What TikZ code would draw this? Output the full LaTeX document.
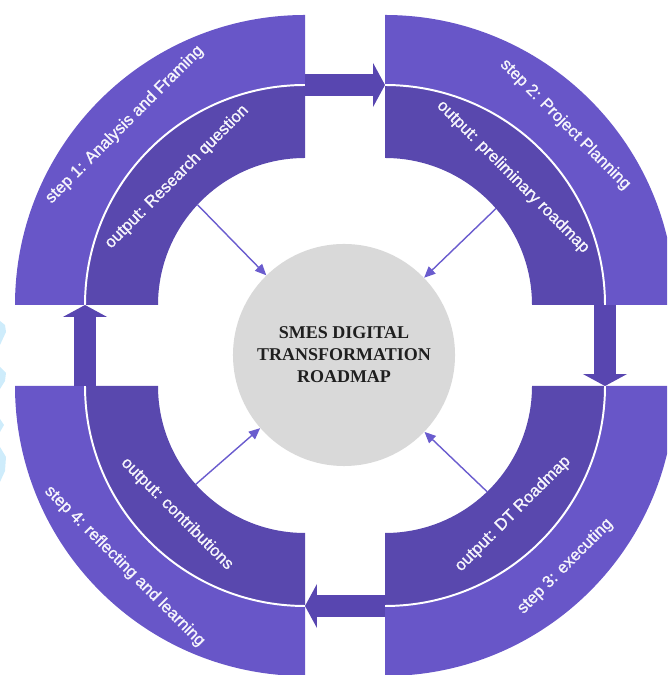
\documentclass[tikz,border=0pt]{standalone}
\usepackage{fontspec}
\setmainfont{Liberation Sans}
\newfontfamily\labelfont{Liberation Sans}[UprightFeatures={FakeBold=1.2}]
\newfontfamily\titlefont{Liberation Serif}
\usepackage{xcolor}
\usepackage{tikz}
\usetikzlibrary{arrows.meta}
\usetikzlibrary{calc}
\tikzset{font={\fontsize{11.8pt}{14pt}\selectfont}}
\definecolor{ringlight}{RGB}{104,86,200}
\definecolor{ringdark}{RGB}{89,72,174}
\definecolor{arrowpurple}{RGB}{88,70,176}
\definecolor{feedpurple}{RGB}{106,92,206}
\definecolor{coregray}{RGB}{217,217,217}
\definecolor{wmblue}{RGB}{206,236,251}

\begin{document}
\begin{tikzpicture}[x=0.025cm,y=0.025cm,
quarter ring/.pic={\fill[ringlight](90:290) arc[start angle=90,end angle=180,radius=290] -- (180:220) arc[start angle=180,end angle=90,radius=220] -- cycle;
\fill[ringdark](90:220) arc[start angle=90,end angle=180,radius=220] -- (180:147) arc[start angle=180,end angle=90,radius=147] -- cycle;
\draw[white,line width=1.4pt](90:220) arc[start angle=90,end angle=180,radius=220];},
step label/.style={text=white!94!ringlight,inner sep=0pt,font=\labelfont\fontsize{11.8pt}{14pt}\selectfont},
block arrow/.style={draw=arrowpurple,line width=15.6pt,-{Triangle[length=8.5pt,width=31pt]}},
feed arrow/.style={draw=feedpurple,line width=1pt,-{Triangle[length=8pt,width=7pt]}}
]
\clip (0,0) rectangle (667,675);

%centres of the four quarters
\coordinate (c1) at (305,370);
\coordinate (c2) at (385,370);
\coordinate (c3) at (385,289);
\coordinate (c4) at (305,289);

\foreach \c/\r in {c1/0,c2/-90,c3/180,c4/90}\pic[rotate=\r] at (\c){quarter ring};

%faint marks on the left edge
\fill[wmblue] (0,354) -- (5,350) -- (6,343) -- (0,330) -- cycle;
\fill[wmblue] (0,308) -- (6,302) -- (5,294) -- (0,286) -- cycle;
\fill[wmblue] (0,256) -- (4,250) -- (0,243) -- cycle;
\fill[wmblue] (0,228) -- (6,218) -- (5,204) -- (0,193) -- cycle;

\node[circle,fill=coregray,minimum size=5.55cm,inner sep=0pt,align=center,text=black!88,font=\titlefont\bfseries\fontsize{12.8pt}{15.6pt}\selectfont] (core) at (344,320) {SMES DIGITAL\\TRANSFORMATION\\ROADMAP};

\node[step label,rotate=45] (s1) at ([shift={(135:255)}]c1) {step 1: Analysis and Framing};
\node[step label,rotate=45] (o1) at ([shift={(135:181)}]c1) {output: Research question};
\node[step label,rotate=-45] (s2) at ([shift={(45:255)}]c2) {step 2: Project Planning};
\node[step label,rotate=-45] (o2) at ([shift={(45:181)}]c2) {output: preliminary roadmap};
\node[step label,rotate=45] (s3) at ([shift={(-45:255)}]c3) {step 3: executing};
\node[step label,rotate=45] (o3) at ([shift={(-45:181)}]c3) {output: DT Roadmap};
\node[step label,rotate=-45] (s4) at ([shift={(225:255)}]c4) {step 4: reflecting and learning};
\node[step label,rotate=-45] (o4) at ([shift={(225:181)}]c4) {output: contributions};

%steps follow each other clockwise
\foreach \a/\b/\d in {c1/c2/90,c2/c3/0,c3/c4/-90,c4/c1/180}
\draw[block arrow] ([shift={(\d:220)}]\a) -- ([shift={(\d:220)}]\b);

%outputs feed the roadmap
\foreach \c/\a in {c1/137,c2/41,c3/-46,c4/222}
\draw[feed arrow] ([shift={(\a:147)}]\c) -- (core);

\end{tikzpicture}
\end{document}
